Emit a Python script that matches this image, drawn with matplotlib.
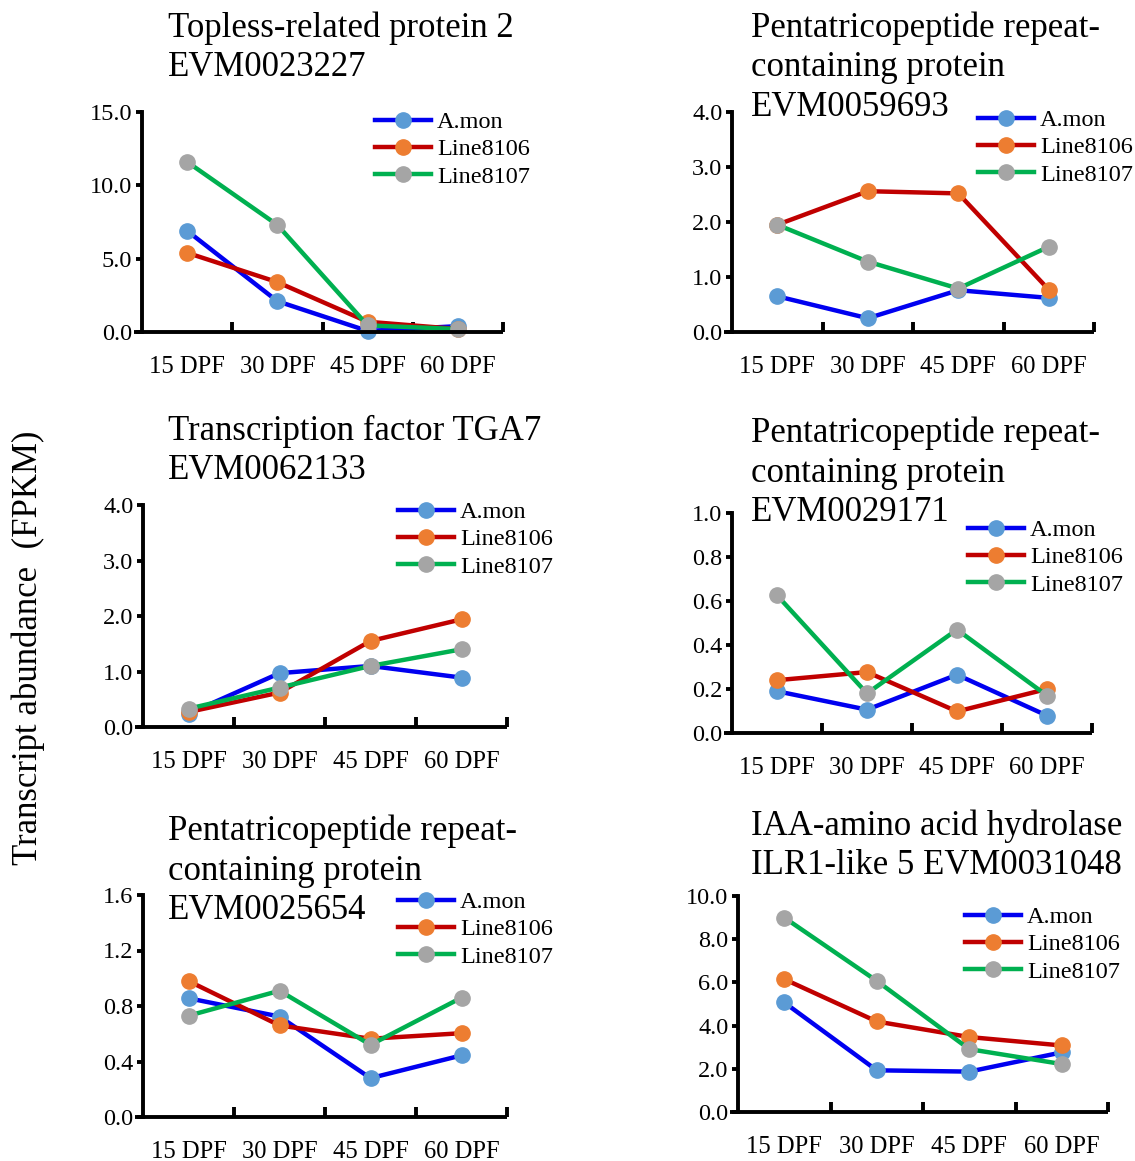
import matplotlib
matplotlib.use("Agg")
import matplotlib.pyplot as plt

plt.rcParams['font.family'] = ['Liberation Serif', 'DejaVu Serif']

stages = ["15 DPF", "30 DPF", "45 DPF", "60 DPF"]
series_names = ["A.mon", "Line8106", "Line8107"]

titles = [
    ["Topless-related protein 2", "EVM0023227"],
    ["Pentatricopeptide repeat-", "containing protein", "EVM0059693"],
    ["Transcription factor TGA7", "EVM0062133"],
    ["Pentatricopeptide repeat-", "containing protein", "EVM0029171"],
    ["Pentatricopeptide repeat-", "containing protein", "EVM0025654"],
    ["IAA-amino acid hydrolase", "ILR1-like 5 EVM0031048"],
]

# values per panel: A.mon, Line8106, Line8107
amon = [
    [6.9, 2.1, 0.07, 0.4],
    [0.65, 0.25, 0.76, 0.62],
    [0.24, 0.97, 1.1, 0.89],
    [0.19, 0.106, 0.265, 0.079],
    [0.856, 0.724, 0.28, 0.444],
    [5.07, 1.93, 1.87, 2.76],
]
line8106 = [
    [5.4, 3.4, 0.7, 0.2],
    [1.95, 2.56, 2.52, 0.77],
    [0.27, 0.62, 1.55, 1.94],
    [0.24, 0.277, 0.098, 0.2],
    [0.98, 0.66, 0.564, 0.604],
    [6.15, 4.19, 3.47, 3.08],
]
line8107 = [
    [11.6, 7.3, 0.45, 0.2],
    [1.95, 1.28, 0.79, 1.55],
    [0.33, 0.71, 1.1, 1.4],
    [0.626, 0.18, 0.47, 0.17],
    [0.73, 0.91, 0.52, 0.86],
    [9.0, 6.07, 2.91, 2.22],
]

y_max = [15, 4, 4, 1.0, 1.6, 10]
y_step = [5, 1, 1, 0.2, 0.4, 2]

line_colors = ['#0000F0', '#C00000', '#00B050']
marker_colors = ['#5B9BD5', '#ED7D31', '#A5A5A5']

W, H = 1135, 1161
fig = plt.figure(figsize=(W / 100, H / 100), dpi=100)

# pixel boxes: y-axis x, right end, top, bottom
boxes = [
    (142, 503, 112, 332),
    (732, 1094, 112, 332),
    (143, 507, 505, 727),
    (732, 1092, 513, 733),
    (143, 507, 895, 1117),
    (738, 1108, 896, 1112),
]
# left x, baseline of first line
title_pos = [(168, 37), (751, 37), (168, 440), (751, 442), (168, 840), (751, 835)]
title_pitch = 39.5
legend_pos = [(375, 125), (978, 123), (398, 515), (968, 533), (398, 905), (965, 920)]

for i in range(6):
    yx, rx, ty, by = boxes[i]
    w = (rx - yx) / 4
    ext = 0.09
    left = yx - ext * w
    ax = fig.add_axes([left / W, 1 - by / H, (rx - left) / W, (by - ty) / H])
    ax.set_xlim(-0.5 - ext, 3.5)
    ax.set_ylim(0, y_max[i])

    data = [amon[i], line8106[i], line8107[i]]
    for k in range(3):
        ax.plot(range(4), data[k], color=line_colors[k], lw=3.2,
                marker='o', ms=11, mfc=marker_colors[k], mec=marker_colors[k],
                label=series_names[k], clip_on=False)

    for s in ['top', 'right']:
        ax.spines[s].set_visible(False)
    ax.spines['left'].set_position(('data', -0.5))
    ax.spines['left'].set_linewidth(2.8)
    ax.spines['bottom'].set_linewidth(2.8)
    ax.spines['bottom'].set_capstyle('butt')

    ax.set_xticks([0.5, 1.5, 2.5, 3.5])
    ax.set_xticklabels([])
    ax.set_xticks(range(4), minor=True)
    ax.set_xticklabels(stages, minor=True)
    ax.tick_params(axis='x', which='major', direction='in', length=7, width=2.8)
    ax.tick_params(axis='x', which='minor', length=0, labelsize=17.7, pad=17)

    n = int(round(y_max[i] / y_step[i]))
    yt = [y_step[i] * j for j in range(n + 1)]
    ax.set_yticks(yt)
    ax.set_yticklabels([f"{v:.1f}" for v in yt])
    ax.tick_params(axis='y', direction='out', length=4, width=2.8, labelsize=17.5, pad=3)

    tx, tb = title_pos[i]
    for j, line in enumerate(titles[i]):
        fig.text(tx / W, 1 - (tb + j * title_pitch) / H, line,
                 fontsize=25, ha='left', va='baseline')

    lx, ly = legend_pos[i]
    ax.legend(loc='upper left', bbox_to_anchor=(lx / W, 1 - (ly - 14) / H),
              bbox_transform=fig.transFigure, frameon=False, fontsize=17.5,
              handlelength=2.3, handletextpad=0.25, labelspacing=0.22,
              borderpad=0, borderaxespad=0, numpoints=1)

fig.text(28 / W, 1 - 648 / H, "Transcript abundance  (FPKM)", rotation=90,
         fontsize=25, ha='center', va='center')

fig.savefig("out.png", dpi=100)
